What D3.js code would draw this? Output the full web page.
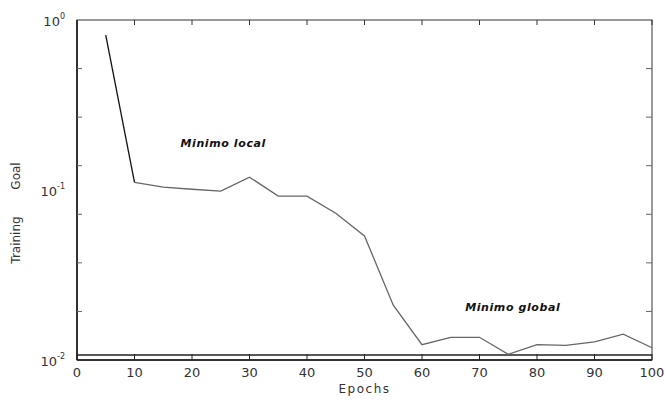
<!DOCTYPE html>
<html>
<head>
<meta charset="utf-8">
<script src="https://cdn.jsdelivr.net/npm/d3@7"></script>
<style>
  body { margin: 0; background: #fff; }
  text { font-family: "DejaVu Sans", sans-serif; fill: #333; }
</style>
</head>
<body>
<div id="graph"></div>
<script>
// training error per epoch
var epochs = [5, 10, 15, 20, 25, 30, 35, 40, 45, 50, 55, 60, 65, 70, 75, 80, 85, 90, 95, 100];
var trainError = [0.816, 0.111, 0.104, 0.101, 0.0986, 0.119, 0.092, 0.092, 0.073, 0.0537,
                  0.021, 0.0123, 0.0136, 0.0136, 0.0108, 0.0123, 0.0122, 0.0128, 0.0142, 0.0118];
var goal = 0.0107;
var xTicks = [0, 10, 20, 30, 40, 50, 60, 70, 80, 90, 100];
var yDecades = [0, -1, -2];
var notes = [{text: "Minimo local", x: 18, y: 0.18}, {text: "Minimo global", x: 67.5, y: 0.0195}];

var svgWidth = 665, svgHeight = 400;
var chartMargin = {top: 20, right: 13, bottom: 40, left: 77};
var chartWidth = svgWidth - chartMargin.left - chartMargin.right;
var chartHeight = svgHeight - chartMargin.top - chartMargin.bottom;

var svg = d3.select("#graph").append("svg")
  .attr("width", svgWidth)
  .attr("height", svgHeight);

var chartGroup = svg.append("g")
  .attr("transform", `translate(${chartMargin.left}, ${chartMargin.top})`);

var x = d3.scaleLinear().domain([0, 100]).range([0, chartWidth]);
var y = d3.scaleLog().domain([0.01, 1]).range([chartHeight, 0]);

// box
chartGroup.append("rect")
  .attr("width", chartWidth).attr("height", chartHeight)
  .attr("fill", "none").attr("stroke", "#555").attr("stroke-width", 1.2);
chartGroup.append("line")
  .attr("x1", 0).attr("x2", 0).attr("y1", 0).attr("y2", chartHeight)
  .attr("stroke", "#111").attr("stroke-width", 1.5);
chartGroup.append("line")
  .attr("x1", 0).attr("x2", chartWidth).attr("y1", chartHeight).attr("y2", chartHeight)
  .attr("stroke", "#111").attr("stroke-width", 1.5);

// x ticks, inward on bottom and top
xTicks.forEach(function(t) {
  chartGroup.append("line")
    .attr("x1", x(t)).attr("x2", x(t)).attr("y1", chartHeight).attr("y2", chartHeight - 6)
    .attr("stroke", "#222");
  chartGroup.append("line")
    .attr("x1", x(t)).attr("x2", x(t)).attr("y1", 0).attr("y2", 5)
    .attr("stroke", "#333");
  chartGroup.append("text")
    .attr("x", x(t)).attr("y", chartHeight + 17)
    .attr("text-anchor", "middle")
    .style("font-size", "13px")
    .text(t);
});

// y minor ticks (evenly spaced in the original figure)
d3.range(1, 7).forEach(function(k) {
  var v = Math.pow(10, -2 * k / 7);
  chartGroup.append("line")
    .attr("x1", 0).attr("x2", 5).attr("y1", y(v)).attr("y2", y(v))
    .attr("stroke", "#666");
  chartGroup.append("line")
    .attr("x1", chartWidth).attr("x2", chartWidth - 6).attr("y1", y(v)).attr("y2", y(v))
    .attr("stroke", "#666");
});

// y decade labels
yDecades.forEach(function(d) {
  var lbl = chartGroup.append("text")
    .attr("x", -12).attr("y", y(Math.pow(10, d)) + 6)
    .attr("text-anchor", "end")
    .style("font-size", "13px");
  lbl.append("tspan").text("10");
  lbl.append("tspan").attr("dy", -7).style("font-size", "8px").text(d == 0 ? "0" : "-" + (-d));
});

// goal line
chartGroup.append("line")
  .attr("x1", 0).attr("x2", chartWidth).attr("y1", y(goal)).attr("y2", y(goal))
  .attr("stroke", "#222").attr("stroke-width", 1.3);

// training curve
var pts = epochs.map(function(e, i) { return [e, trainError[i]]; });
var line = d3.line().x(function(d) { return x(d[0]); }).y(function(d) { return y(d[1]); });
chartGroup.append("path")
  .datum(pts.slice(1))
  .attr("d", line)
  .attr("fill", "none").attr("stroke", "#666").attr("stroke-width", 1.3);
chartGroup.append("path")
  .datum(pts.slice(0, 2))
  .attr("d", line)
  .attr("fill", "none").attr("stroke", "#111").attr("stroke-width", 1.3);

// annotations
notes.forEach(function(n) {
  chartGroup.append("text")
    .attr("x", x(n.x)).attr("y", y(n.y))
    .style("font-family", "'DejaVu Sans', sans-serif")
    .style("font-size", "11px").style("font-weight", "bold").style("font-style", "italic")
    .style("letter-spacing", "0.6px")
    .style("fill", "#111")
    .text(n.text);
});

// axis labels
svg.append("text")
  .attr("x", chartMargin.left + x(50)).attr("y", 393)
  .attr("text-anchor", "middle")
  .style("font-size", "12px").style("letter-spacing", "1.5px")
  .text("Epochs");
svg.append("text")
  .attr("transform", "translate(20, 240) rotate(-90)")
  .attr("text-anchor", "middle")
  .style("font-size", "12px")
  .text("Training");
svg.append("text")
  .attr("transform", "translate(20, 176) rotate(-90)")
  .attr("text-anchor", "middle")
  .style("font-size", "12px")
  .text("Goal");
</script>
</body>
</html>
